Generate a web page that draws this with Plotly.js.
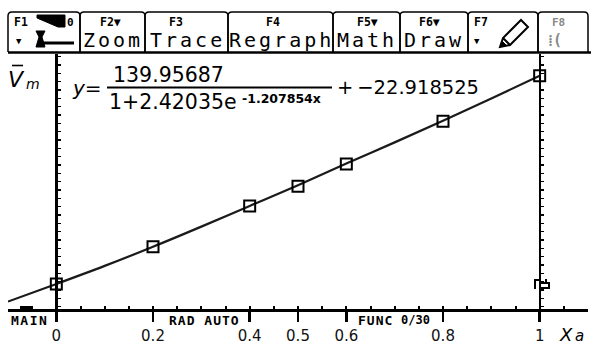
<!DOCTYPE html>
<html><head><meta charset="utf-8">
<script src="https://cdn.plot.ly/plotly-3.0.1.min.js"></script>
<style>html,body{margin:0;padding:0;background:#fff;overflow:hidden}#chart{width:591px;height:346px}</style>
</head><body><div id="chart"></div>
<script>
// ---- data ----
const pointX = [0, 0.2, 0.4, 0.5, 0.6, 0.8, 1];
const pointY = [18.0, 25.2, 33.1, 36.9, 41.2, 49.5, 58.3];
const curveX = [-0.1, 0, 0.1, 0.2, 0.3, 0.4, 0.5, 0.6, 0.7, 0.8, 0.9, 1.0];
const curveY = [14.6, 18.0, 21.5, 25.2, 29.1, 33.1, 37.1, 41.3, 45.4, 49.6, 53.9, 58.3];
const xTickVals = [0, 0.2, 0.4, 0.5, 0.6, 0.8, 1];
const xTickText = ['0', '0.2', '0.4', '0.5', '0.6', '0.8', '1'];
const fKeyLabels = ['F1', 'F2▼', 'F3', 'F4', 'F5▼', 'F6▼', 'F7'];
const menuLabels = ['Zoom', 'Trace', 'Regraph', 'Math', 'Draw'];
const statusLabels = ['MAIN', 'RAD AUTO', 'FUNC', '0/30'];
const fitNumerator = '139.95687';
const fitDenominator = '1+2.42035e';
const fitExponent = '-1.207854x';
const fitOffset = '+\u2009−22.918525';

// ---- pixel helpers (layout geometry only) ----
const W = 591, H = 346, L = 8, R = 3, T = 54, B = 37;
const PW = W - L - R, PH = H - T - B;
const px = x => (x - L) / PW;
const py = y => (H - B - y) / PH;
const P = (x, y) => px(x).toFixed(5) + ',' + py(y).toFixed(5);

function ann(text, x, y, font, xanchor, yanchor) {
  return {text: text, x: px(x), y: py(y), xref: 'paper', yref: 'paper', showarrow: false,
    xanchor: xanchor || 'center', yanchor: yanchor || 'middle', font: font, borderpad: 0};
}
const monoB = (s, c) => ({family: 'DejaVu Sans Mono', size: s, color: c || '#000', weight: 'bold'});
const mono = (s, c) => ({family: 'DejaVu Sans Mono', size: s, color: c || '#000'});
const sans = (s, c) => ({family: 'DejaVu Sans', size: s, color: c || '#000'});

// ---- toolbar geometry ----
const tabEdges = [8, 80, 145, 228, 333, 400, 468, 538, 588];
const shapes = [];
for (let i = 0; i < tabEdges.length - 1; i++) {
  const a = tabEdges[i], b = tabEdges[i + 1], yb = 52, yt = 12, r = 4;
  shapes.push({type: 'path', xref: 'paper', yref: 'paper', line: {color: '#000', width: 1.5},
    path: `M${P(a, yb)} L${P(a, yt + r)} Q${P(a, yt)} ${P(a + r, yt)} L${P(b - r, yt)} Q${P(b, yt)} ${P(b, yt + r)} L${P(b, yb)}`});
}
shapes.push({type: 'line', xref: 'paper', yref: 'paper', x0: px(8), x1: px(591), y0: py(52.5), y1: py(52.5), line: {color: '#000', width: 2.5}});
// F1 icons
shapes.push({type: 'path', xref: 'paper', yref: 'paper', fillcolor: '#000', line: {color: '#000', width: 1},
  path: `M${P(37, 15)} L${P(65, 15)} L${P(65, 27)} L${P(58, 27)} L${P(37, 18)} Z`});
shapes.push({type: 'path', xref: 'paper', yref: 'paper', fillcolor: '#000', line: {color: '#000', width: 1},
  path: `M${P(36, 31)} L${P(45, 31)} L${P(42, 37)} L${P(45, 47)} L${P(36, 47)} L${P(39, 37)} Z`});
shapes.push({type: 'line', xref: 'paper', yref: 'paper', x0: px(43), x1: px(74), y0: py(43), y1: py(43), line: {color: '#000', width: 3}});
// F7 pencil
shapes.push({type: 'path', xref: 'paper', yref: 'paper', line: {color: '#000', width: 2},
  path: `M${P(500, 47)} L${P(503, 38)} L${P(521, 20)} L${P(528, 27)} L${P(510, 45)} Z M${P(503, 38)} L${P(510, 45)}`});
shapes.push({type: 'path', xref: 'paper', yref: 'paper', fillcolor: '#000', line: {color: '#000', width: 1},
  path: `M${P(500, 47)} L${P(502, 41)} L${P(506, 45)} Z`});
// equation fraction bar and V overline
shapes.push({type: 'line', xref: 'paper', yref: 'paper', x0: px(107), x1: px(332), y0: py(87.5), y1: py(87.5), line: {color: '#000', width: 2}});
shapes.push({type: 'line', xref: 'paper', yref: 'paper', x0: px(12), x1: px(23), y0: py(65.5), y1: py(65.5), line: {color: '#000', width: 1.6}});
// status bar busy mark and cursor glyph
shapes.push({type: 'rect', xref: 'paper', yref: 'paper', x0: px(20), x1: px(33), y0: py(309), y1: py(306), fillcolor: '#000', line: {width: 0}});
shapes.push({type: 'path', xref: 'paper', yref: 'paper', line: {color: '#000', width: 2},
  path: `M${P(535, 289)} L${P(535, 280)} L${P(541, 280)} M${P(541, 283)} L${P(549, 283)} L${P(549, 288)} L${P(541, 288)} M${P(546, 279)} L${P(546, 283)}`});

// ---- annotations ----
const annotations = [];
const fPos = [21, 110, 176, 273, 367, 429, 481];
fKeyLabels.forEach((t, i) => annotations.push(ann(t, fPos[i], 22, monoB(11.5))));
annotations.push(ann('0', 70, 22, monoB(11)));
const mPos = [112.5, 187, 281, 367, 434];
menuLabels.forEach((t, i) => annotations.push(ann('<span style="letter-spacing:3px">' + t + '</span>', mPos[i], 40, mono(20))));
annotations.push(ann('▼', 19, 41, mono(9)));
annotations.push(ann('▼', 477, 41, mono(9)));
annotations.push(ann('F8', 558, 22, monoB(11, '#888')));
annotations.push(ann('⁞(', 555, 40, monoB(15, '#888')));

annotations.push(ann('<i>V</i>', 7, 79, sans(22), 'left'));
annotations.push(ann('<i>m</i>', 25, 84, sans(14), 'left'));
annotations.push(ann('<i>y</i>=', 71, 88, sans(20), 'left'));
annotations.push(ann(fitNumerator, 168, 75, sans(20.5)));
annotations.push(ann(fitDenominator, 108, 102, sans(20.5), 'left'));
annotations.push(ann(fitExponent, 241, 98, {family: 'DejaVu Sans', size: 12.5, weight: 'bold', color: '#000'}, 'left'));
annotations.push(ann(fitOffset, 336, 87, sans(19.5), 'left'));

annotations.push(ann('<span style="letter-spacing:1.5px">' + statusLabels[0] + '</span>', 10, 320, monoB(13), 'left'));
annotations.push(ann('<span style="letter-spacing:1px">' + statusLabels[1] + '</span>', 168, 320, monoB(13), 'left'));
annotations.push(ann('<span style="letter-spacing:1px">' + statusLabels[2] + '</span>', 357, 320, monoB(13), 'left'));
annotations.push(ann(statusLabels[3], 400, 320, monoB(12), 'left'));

annotations.push(ann('<i>X</i>', 558, 334, sans(18), 'left'));
annotations.push(ann('<i>a</i>', 574, 336, sans(15), 'left'));

// ---- traces ----
const traces = [
  {x: curveX, y: curveY, type: 'scatter', mode: 'lines', line: {color: '#1a1a1a', width: 2.2, shape: 'spline'}, xaxis: 'x', yaxis: 'y', hoverinfo: 'skip'},
  {x: pointX, y: pointY, type: 'scatter', mode: 'markers', marker: {symbol: 'square-open', size: 11, color: '#000', line: {width: 2, color: '#000'}}, xaxis: 'x', yaxis: 'y'},
  {x: [], y: [], type: 'scatter', mode: 'markers', xaxis: 'x2', yaxis: 'y2', showlegend: false}
];

const yr = [13.16, 62.5];
const yAxisStyle = {range: yr, anchor: 'free', side: 'left', showline: true, linewidth: 2.5, linecolor: '#000',
  ticks: 'inside', ticklen: 3, tickwidth: 1.5, tickcolor: '#000', tickmode: 'linear', tick0: 60.37, dtick: 1.612,
  showticklabels: false, showgrid: false, zeroline: false, fixedrange: true};

const layout = {
  width: W, height: H, margin: {l: L, r: R, t: T, b: B, pad: 0},
  paper_bgcolor: '#fff', plot_bgcolor: '#fff', showlegend: false,
  xaxis: {range: [-0.1, 1.1], showline: true, linewidth: 2.5, linecolor: '#000', ticks: 'inside', ticklen: 3, tickwidth: 2,
    tickcolor: '#000', tickmode: 'linear', tick0: 0, dtick: 0.05, showticklabels: false, showgrid: false, zeroline: false, fixedrange: true},
  xaxis2: {overlaying: 'x', anchor: 'y', side: 'bottom', range: [-0.1, 1.1], tickmode: 'array', tickvals: xTickVals, ticktext: xTickText,
    ticks: 'outside', ticklen: 12, tickwidth: 2.5, tickcolor: '#000', showline: false, showgrid: false, zeroline: false,
    tickfont: {family: 'DejaVu Sans', size: 15, color: '#111'}, ticklabelstandoff: 1, fixedrange: true},
  yaxis: Object.assign({}, yAxisStyle, {position: 0.1 / 1.2}),
  yaxis2: Object.assign({}, yAxisStyle, {overlaying: 'y', position: 1.1 / 1.2}),
  shapes: shapes, annotations: annotations
};

Plotly.newPlot('chart', traces, layout, {staticPlot: true, displayModeBar: false});
</script></body></html>
